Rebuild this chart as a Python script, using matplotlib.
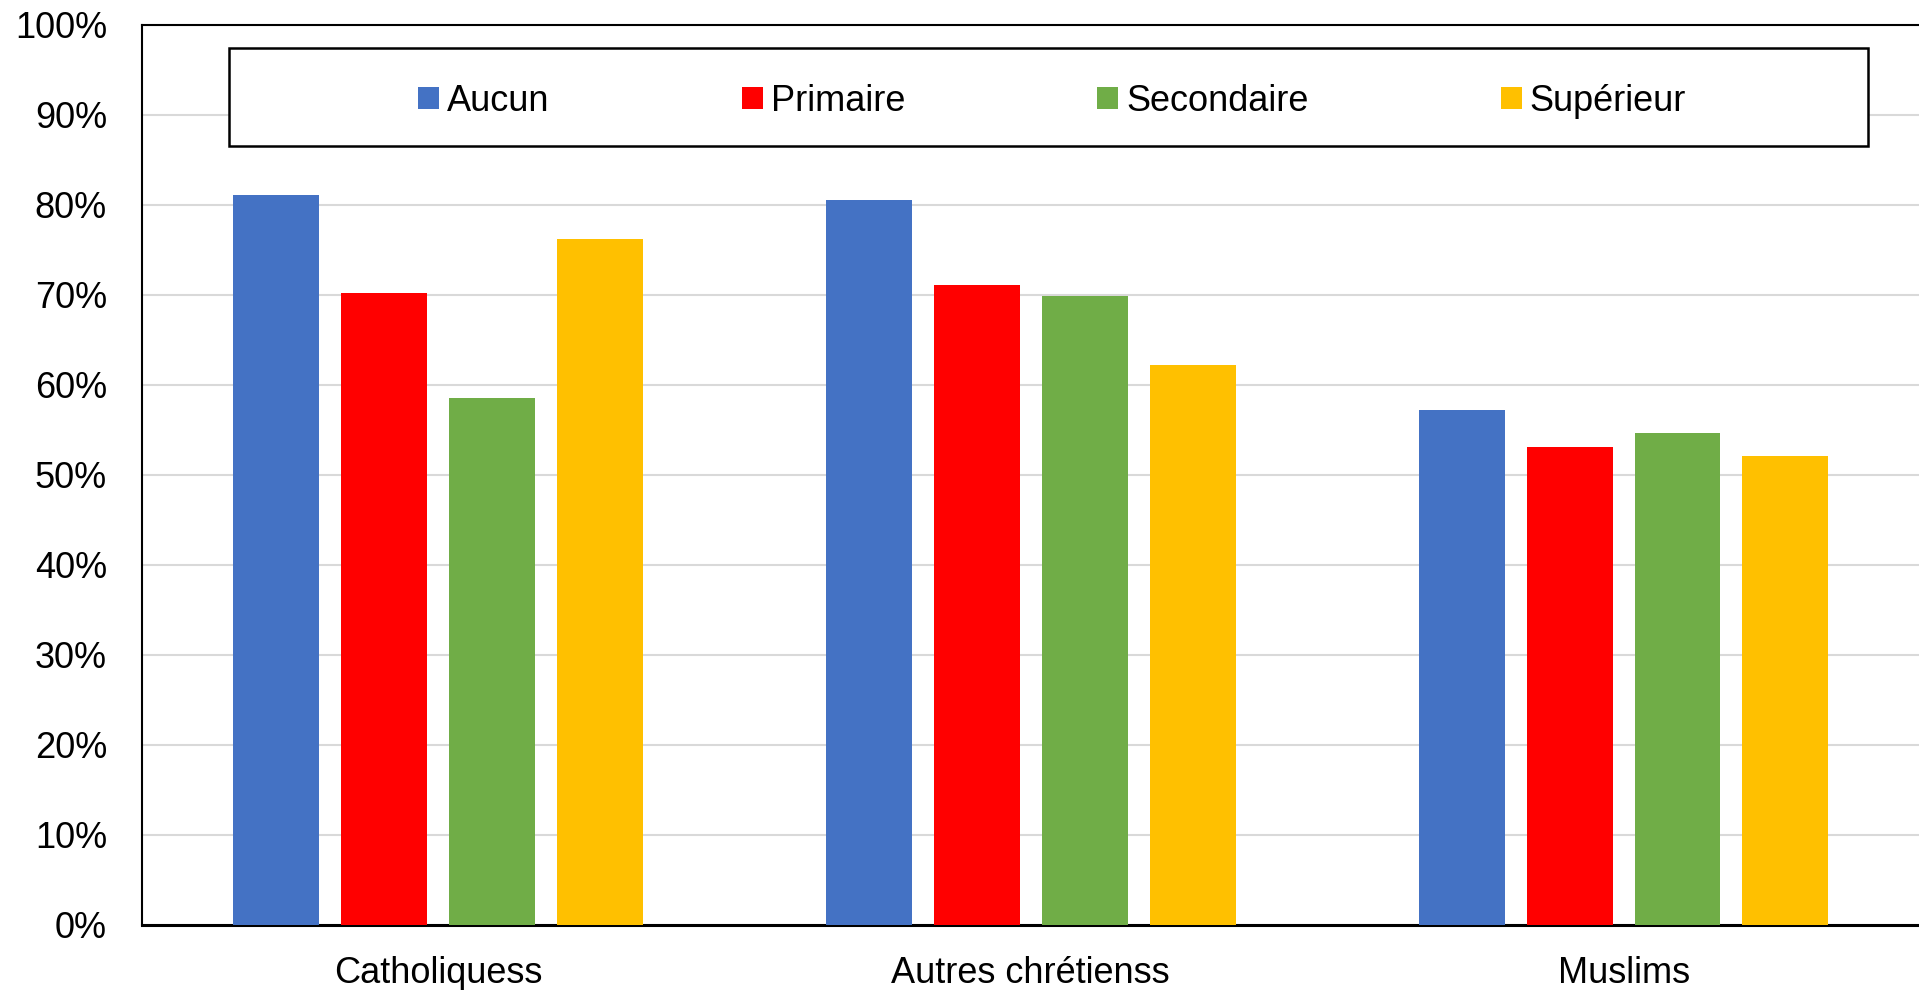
import numpy as np
import matplotlib.pyplot as plt
from matplotlib.patches import Patch, Rectangle

plt.rcParams['font.family'] = ['Liberation Sans', 'DejaVu Sans']

categories = ['Catholiquess', 'Autres chrétienss', 'Muslims']
series = ['Aucun', 'Primaire', 'Secondaire', 'Supérieur']
colors = ['#4472c4', '#ff0000', '#70ad47', '#ffc000']

aucun = [81.1, 80.5, 57.2]
primaire = [70.2, 71.1, 53.1]
secondaire = [58.6, 69.9, 54.7]
superieur = [76.2, 62.2, 52.1]
values = [aucun, primaire, secondaire, superieur]

yticks = np.arange(0, 101, 10)
ytick_labels = [f'{v}%' for v in yticks]

fig = plt.figure(figsize=(19.19, 9.90), dpi=100)
ax = fig.add_axes([0.0738, 0.0657, 0.9267, 0.9091])

x = np.arange(len(categories))
step = 0.182
width = 0.145
for i, (vals, col) in enumerate(zip(values, colors)):
    ax.bar(x + (i - 1.5) * step, vals, width, color=col, zorder=3)

ax.set_xlim(-0.5, 2.5)
ax.set_ylim(0, 100)
ax.set_yticks(yticks)
ax.set_yticklabels(ytick_labels)
ax.set_xticks(x)
ax.set_xticklabels(categories)
ax.tick_params(axis='y', length=0, pad=25, labelsize=26)
ax.tick_params(axis='x', length=0, pad=22, labelsize=26)
ax.yaxis.grid(True, color='#d9d9d9', linewidth=1.5, zorder=0)
ax.set_axisbelow(True)

for s in ['left', 'top']:
    ax.spines[s].set_linewidth(1.5)
    ax.spines[s].set_color('black')
ax.spines['bottom'].set_linewidth(2.2)
ax.spines['right'].set_visible(False)

# legend box
ax.add_patch(Rectangle((0.0491, 0.8656), 0.9217, 0.1088, transform=ax.transAxes,
                       facecolor='white', edgecolor='black', linewidth=1.8, zorder=5))
handles = [Patch(facecolor=c, edgecolor='none') for c in colors]
leg = ax.legend(handles, series, ncol=4, loc='center', bbox_to_anchor=(0.512, 0.915),
                frameon=False, fontsize=26, handlelength=0.58, handleheight=0.58,
                handletextpad=0.22, columnspacing=5.32)
leg.set_zorder(6)

plt.savefig('out.png', dpi=100)
